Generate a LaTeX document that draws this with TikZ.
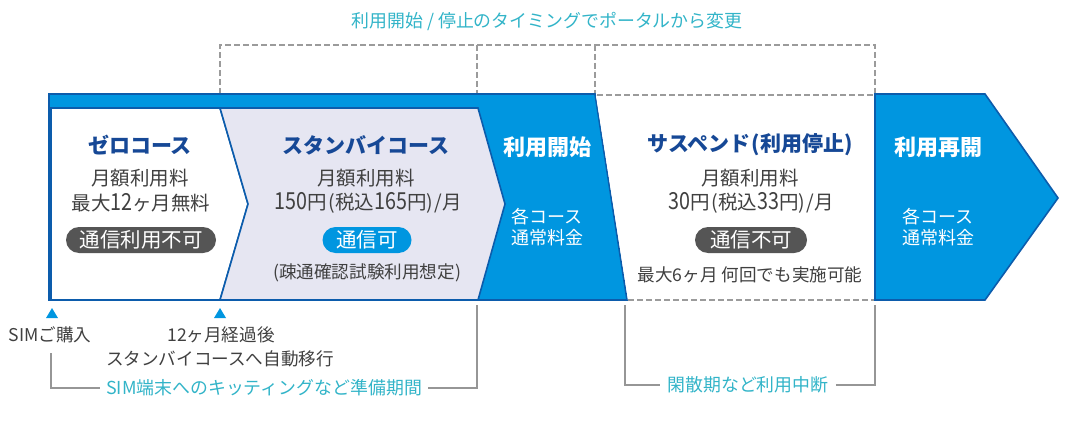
\documentclass[tikz,border=0pt]{standalone}
\usepackage{fontspec}
\setmainfont{Noto Sans CJK JP}
\definecolor{bandblue}{RGB}{0,150,224}
\definecolor{darkblue}{RGB}{12,92,172}
\definecolor{titleblue}{RGB}{22,72,150}
\definecolor{lav}{RGB}{230,230,242}
\definecolor{txtgray}{RGB}{64,64,64}
\definecolor{pillgray}{RGB}{85,85,85}
\definecolor{teal1}{RGB}{50,180,200}
\definecolor{dashgray}{RGB}{155,155,155}
\definecolor{brgray}{RGB}{150,150,150}
\newcommand{\dg}[1]{\scalebox{0.84}[1]{\fontsize{23.5}{23.5}\selectfont #1}}
\newcommand{\pl}{\hspace{2pt}(}
\newcommand{\pr}{)\hspace{1pt}}
\begin{document}
\begin{tikzpicture}[x=1pt,y=-1pt,
  body/.style={text=txtgray,font=\fontsize{19.5}{19.5}\selectfont,inner sep=0pt},
  ctitle/.style={text=titleblue,font=\bfseries\fontsize{21}{21}\selectfont,inner sep=0pt},
  wtitle/.style={text=white,font=\bfseries\fontsize{22}{22}\selectfont,inner sep=0pt},
  wbody/.style={text=white,font=\fontsize{18}{18}\selectfont,inner sep=0pt},
  pill/.style={fill=#1,text=white,rounded corners=13pt,minimum height=26pt,inner sep=0pt,font=\fontsize{20.5}{20.5}\selectfont},
  smalltxt/.style={text=txtgray,font=\fontsize{17.6}{17.6}\selectfont,inner sep=0pt},
  note/.style={text=teal1,font=\fontsize{17.9}{17.9}\selectfont,inner sep=0pt},
  dashline/.style={draw=dashgray,line width=1.8pt,dash pattern=on 6pt off 3pt},
  bracket/.style={draw=brgray,line width=2pt},
  band/.style={draw=darkblue,line width=1.6pt,line join=miter}
]
\path[use as bounding box] (0,0) rectangle (1067,425);

% dashed frame above
\draw[dashline] (220,94) -- (220,45) -- (875,45) -- (875,94);
\draw[dashline] (477,45) -- (477,94);
\draw[dashline] (595,45) -- (595,94);

% main blue band (left part)
\path[band,fill=bandblue] (49,94) -- (595,94) -- (627,300) -- (49,300) -- cycle;
% suspend region
\fill[white] (596,96) -- (875,96) -- (875,299) -- (628,299) -- cycle;
\draw[dashline] (597,95) -- (875,95);
\draw[dashline] (628,300) -- (875,300);
% zero course box
\path[band,fill=white] (51,108) -- (220,108) -- (248,204) -- (220,300) -- (51,300) -- cycle;
% standby course box
\path[band,fill=lav] (220,108) -- (478,108) -- (505,204) -- (478,300) -- (220,300) -- (248,204) -- cycle;
% resume arrow
\path[band,fill=bandblue] (875,94) -- (985,94) -- (1058,198) -- (985,300) -- (875,300) -- cycle;

% top label
\node[note] (toplabel) at (547,22) {利用開始 / 停止のタイミングでポータルから変更};

% zero course
\node[ctitle] (zt) at (140,145) {ゼロコース};
\node[body] (z1) at (140,178) {月額利用料};
\node[body] (z2) at (141,203) {最大\dg{12}ヶ月無料};
\node[pill=pillgray,minimum width=150pt] (zp) at (141,240) {通信利用不可};

% standby course
\node[ctitle] (st) at (366,145) {スタンバイコース};
\node[body] (s1) at (366,178) {月額利用料};
\node[body] (s2) at (368,203) {\dg{150}円\pl 税込\dg{165}円\pr/月};
\node[pill=bandblue,minimum width=89pt] (sp) at (367,240) {通信可};
\node[smalltxt] (s3) at (367,273) {(疎通確認試験利用想定)};

% start
\node[wtitle] (ut) at (547,147) {利用開始};
\node[wbody] (u1) at (547,217) {各コース};
\node[wbody] (u2) at (547,238) {通常料金};

% suspend
\node[ctitle] (pt) at (750,145) {サスペンド\hspace{1pt}(利用停止)};
\node[body] (p1) at (750,178) {月額利用料};
\node[body] (p2) at (751,203) {\dg{30}円\pl 税込\dg{33}円\pr/月};
\node[pill=pillgray,minimum width=112pt] (pp) at (751,240) {通信不可};
\node[smalltxt] (p3) at (750,275) {最大6ヶ月 何回でも実施可能};

% resume
\node[wtitle] (rt) at (938,147) {利用再開};
\node[wbody] (r1) at (938,217) {各コース};
\node[wbody] (r2) at (938,238) {通常料金};

% markers
\fill[bandblue] (46,318) -- (58,318) -- (52,308) -- cycle;
\fill[bandblue] (214,318) -- (226,318) -- (220,308) -- cycle;
\node[smalltxt] (buy) at (50,335) {SIMご購入};
\node[smalltxt] (m12) at (221,335) {12ヶ月経過後};
\node[smalltxt] (auto) at (220,359) {スタンバイコースへ自動移行};

% brackets
\node[note] (prep) at (264,388) {SIM端末へのキッティングなど準備期間};
\node[note] (off) at (748,385) {閑散期など利用中断};
\coordinate (b1s) at (51,353);
\coordinate (b1e) at (477,305);
\coordinate (b2s) at (625,305);
\coordinate (b2e) at (875,305);
\draw[bracket] (b1s) |- ([xshift=-6pt]prep.west);
\draw[bracket] ([xshift=6pt]prep.east) -| (b1e);
\draw[bracket] (b2s) |- ([xshift=-7pt]off.west);
\draw[bracket] ([xshift=7pt]off.east) -| (b2e);
\end{tikzpicture}
\end{document}
